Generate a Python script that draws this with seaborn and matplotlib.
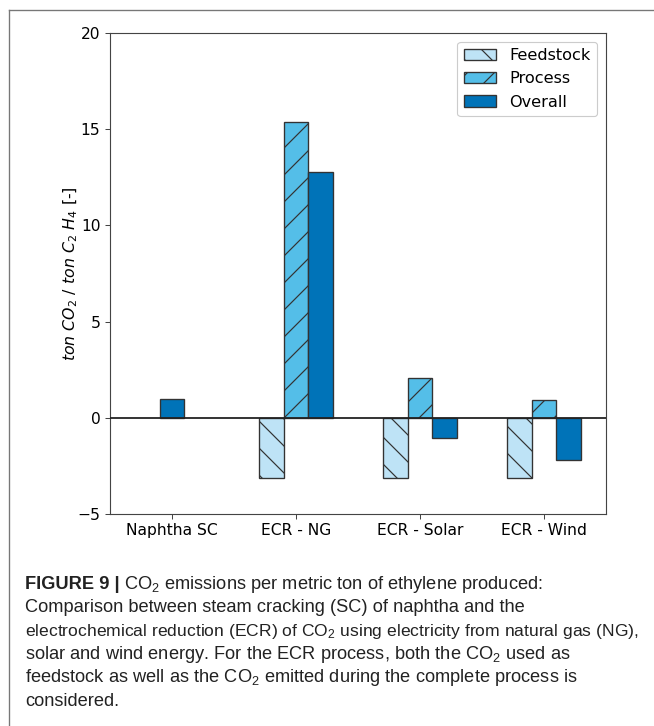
import numpy as np
import pandas as pd
import matplotlib
matplotlib.use("Agg")
import matplotlib.pyplot as plt
import seaborn as sns
from matplotlib.patches import Patch
from matplotlib.lines import Line2D

# ---- data ----
categories = ["Naphtha SC", "ECR - NG", "ECR - Solar", "ECR - Wind"]
series = ["Feedstock", "Process", "Overall"]
feedstock = [np.nan, -3.15, -3.15, -3.15]
process = [np.nan, 15.35, 2.08, 0.95]
overall = [1.0, 12.75, -1.07, -2.2]
y_ticks = [-5, 0, 5, 10, 15, 20]

colors = {"Feedstock": "#BEE3F6", "Process": "#54BEE8", "Overall": "#0073B8"}
hatches = {"Feedstock": "\\\\", "Process": "//", "Overall": ""}

DPI = 162
W, H = 654, 726
PX = 72 / DPI

plt.rcParams["hatch.linewidth"] = 1.2 * PX
plt.rcParams["font.family"] = ["DejaVu Sans"]

rows = []
for i, c in enumerate(categories):
    for s, vals in zip(series, [feedstock, process, overall]):
        rows.append({"category": c, "series": s, "value": vals[i]})
df = pd.DataFrame(rows)

fig = plt.figure(figsize=(W / DPI, H / DPI), dpi=DPI)
ax = fig.add_axes([110 / W, 1 - 514 / H, 496 / W, 481 / H])

main = df[df["category"] != categories[0]].dropna()
sns.barplot(data=main, x="category", y="value", hue="series", order=categories,
            hue_order=series, palette=colors, width=0.6, saturation=1,
            errorbar=None, edgecolor="#333333", linewidth=0.6, ax=ax, legend=False)
for cont, s in zip(ax.containers, series):
    for p in cont:
        p.set_hatch(hatches[s])

nap = df[df["category"] == categories[0]].dropna()
sns.barplot(data=nap, x="category", y="value", order=categories,
            color=colors["Overall"], width=0.2, saturation=1, errorbar=None,
            edgecolor="#333333", linewidth=0.6, ax=ax)

ax.axhline(0, color="#222222", lw=0.8, zorder=3)
ax.set_xlim(-0.5, 3.5)
ax.set_ylim(-5, 20)
ax.set_yticks(y_ticks)
ax.set_xlabel("")
ax.set_ylabel(r"$ton\ CO_2\ /\ ton\ C_2\ H_4$ [-]", fontsize=7.0, labelpad=-1)
ax.tick_params(labelsize=6.9, length=2.2, width=0.45, color="#444444", pad=2)
for sp in ax.spines.values():
    sp.set_linewidth(0.5)
    sp.set_color("#444444")

handles = [Patch(facecolor=colors[s], edgecolor="#333333", hatch=hatches[s], lw=0.6)
           for s in series]
leg = ax.legend(handles, series, loc="upper right", fontsize=7.2, frameon=True,
                fancybox=True, framealpha=1, borderaxespad=0.55)
leg.get_frame().set_edgecolor("#cccccc")
leg.get_frame().set_linewidth(0.5)

# frame lines (top and left)
fig.add_artist(Line2D([9 / W, 1], [1 - 10 / H, 1 - 10 / H], transform=fig.transFigure,
                      color="#777777", lw=0.6))
fig.add_artist(Line2D([9 / W, 9 / W], [1 - 10 / H, 0], transform=fig.transFigure,
                      color="#777777", lw=0.6))

# caption
cap_font = ["Liberation Sans", "DejaVu Sans"]
cap_size = 8.1
cap_color = "#222222"
x0 = 25 / W
base0 = 589
step = 23.3
cap_lines = [
    None,
    ("Comparison between steam cracking (SC) of naphtha and the", cap_size),
    (r"electrochemical reduction (ECR) of $\mathregular{CO_2}$ using electricity from natural gas (NG),", 7.75),
    (r"solar and wind energy. For the ECR process, both the $\mathregular{CO_2}$ used as", cap_size),
    (r"feedstock as well as the $\mathregular{CO_2}$ emitted during the complete process is", cap_size),
    ("considered.", cap_size),
]
t_bold = fig.text(x0, 1 - base0 / H, "FIGURE 9 |", fontsize=cap_size, fontweight="bold",
                  family=cap_font, color=cap_color, va="baseline")
fig.canvas.draw()
bb = t_bold.get_window_extent()
fig.text(bb.x1 / W + 4 / W, 1 - base0 / H,
         r"$\mathregular{CO_2}$ emissions per metric ton of ethylene produced:",
         fontsize=cap_size, family=cap_font, color=cap_color, va="baseline")
for i, item in enumerate(cap_lines):
    if item is None:
        continue
    line, size = item
    fig.text(x0, 1 - (base0 + i * step) / H, line, fontsize=size, family=cap_font,
             color=cap_color, va="baseline")

fig.savefig("out.png", dpi=DPI)
